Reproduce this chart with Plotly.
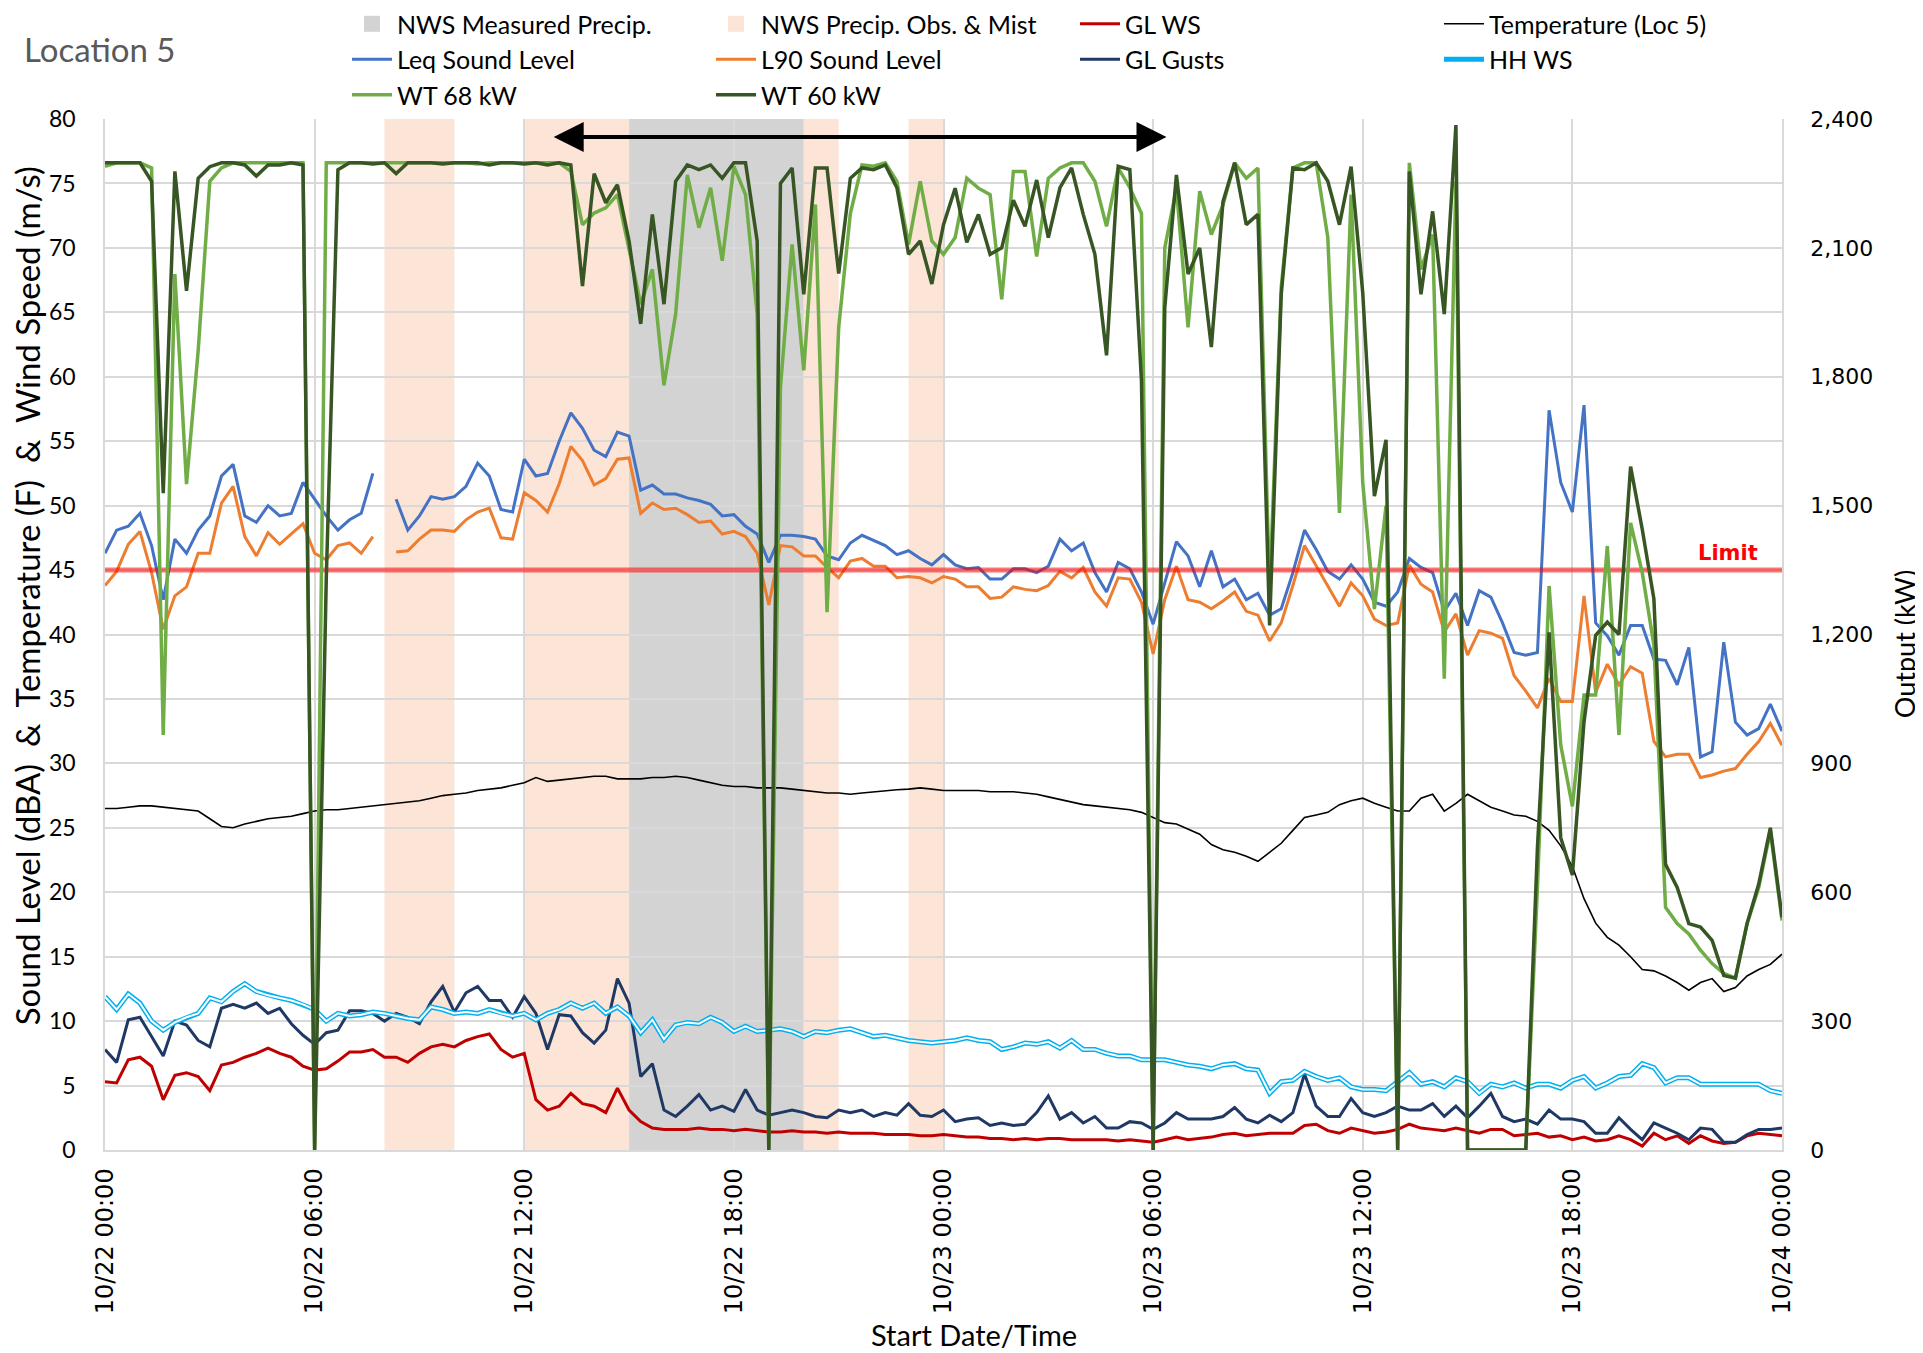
import plotly.graph_objects as go
import pandas as pd

# ---------------- DATA ----------------
START = "2023-10-22 00:00"
N_POINTS = 145          # 20-minute readings, 10/22 00:00 .. 10/24 00:00
STEP = "20min"

leq = [46.3, 48.1, 48.4, 49.4, 46.9, 42.7, 47.4, 46.3, 48.1, 49.2, 52.3, 53.2, 49.2, 48.7, 50.0, 49.2, 49.4, 51.8, 50.5, 49.2, 48.1, 48.9, 49.4, 52.5, None,
       50.5, 48.1, 49.2, 50.7, 50.5, 50.7, 51.5, 53.3, 52.3, 49.7, 49.5, 53.6, 52.3, 52.5, 55.0, 57.2, 56.0, 54.3, 53.8, 55.7, 55.4, 51.2, 51.6, 50.9,
       50.9, 50.6, 50.4, 50.1, 49.2, 49.3, 48.4, 47.8, 45.6, 47.7, 47.7, 47.6, 47.4, 46.1, 45.8, 47.1, 47.7, 47.3, 46.9, 46.2, 46.5, 45.9, 45.4, 46.2,
       45.4, 45.1, 45.2, 44.3, 44.3, 45.1, 45.1, 44.8, 45.3, 47.4, 46.5, 47.1, 44.8, 43.3, 45.6, 45.1, 43.3, 40.8, 44.0, 47.2, 46.1, 43.7, 46.5, 43.7,
       44.3, 42.7, 43.2, 41.5, 42.0, 44.8, 48.1, 46.6, 44.9, 44.3, 45.4, 44.3, 42.5, 42.2, 43.3, 45.9, 45.2, 44.8, 41.8, 43.2, 40.7, 43.4, 42.9, 40.9,
       38.6, 38.4, 38.6, 57.4, 51.8, 49.5, 57.8, 40.9, 39.9, 38.4, 40.7, 40.7, 38.1, 38.0, 36.1, 39.0, 30.5, 30.9, 39.4, 33.2, 32.2, 32.7, 34.6, 32.5]

l90 = [43.8, 44.9, 47.0, 48.0, 44.8, 40.4, 43.0, 43.7, 46.3, 46.3, 50.2, 51.5, 47.6, 46.1, 47.9, 47.0, 47.8, 48.6, 46.3, 45.8, 46.9, 47.1, 46.3, 47.6, None,
       46.4, 46.5, 47.4, 48.1, 48.1, 48.0, 48.9, 49.5, 49.8, 47.5, 47.4, 51.0, 50.4, 49.5, 51.7, 54.6, 53.5, 51.6, 52.1, 53.6, 53.7, 49.4, 50.2, 49.7,
       49.8, 49.3, 48.7, 48.8, 47.8, 48.0, 47.6, 46.3, 42.3, 46.9, 46.8, 46.1, 46.1, 45.2, 44.4, 45.7, 45.9, 45.3, 45.3, 44.4, 44.5, 44.4, 44.0, 44.5,
       44.3, 43.7, 43.7, 42.8, 42.9, 43.7, 43.5, 43.4, 43.8, 44.9, 44.4, 45.2, 43.3, 42.2, 44.4, 44.3, 42.5, 38.5, 42.7, 45.3, 42.7, 42.5, 42.0, 42.6,
       43.3, 41.8, 41.5, 39.5, 40.9, 43.8, 46.9, 45.3, 43.8, 42.2, 44.0, 43.0, 41.2, 40.7, 40.9, 45.4, 43.9, 43.3, 40.2, 41.6, 38.4, 40.3, 40.1, 39.7,
       36.8, 35.6, 34.3, 36.6, 34.8, 34.8, 43.0, 35.5, 37.7, 36.1, 37.5, 37.0, 31.7, 30.5, 30.7, 30.7, 28.9, 29.1, 29.4, 29.6, 30.7, 31.7, 33.1, 31.4]

gl_ws = [5.3, 5.2, 7.0, 7.2, 6.5, 3.9, 5.8, 6.0, 5.7, 4.6, 6.6, 6.8, 7.2, 7.5, 7.9, 7.5, 7.2, 6.5, 6.2, 6.3, 6.9, 7.6, 7.6, 7.8, 7.2,
         7.2, 6.8, 7.5, 8.0, 8.2, 8.0, 8.5, 8.8, 9.0, 7.8, 7.2, 7.5, 3.9, 3.1, 3.4, 4.4, 3.6, 3.4, 2.9, 4.8, 3.1, 2.2, 1.7, 1.6,
         1.6, 1.6, 1.7, 1.6, 1.6, 1.5, 1.6, 1.5, 1.4, 1.4, 1.5, 1.4, 1.4, 1.3, 1.4, 1.3, 1.3, 1.3, 1.2, 1.2, 1.2, 1.1, 1.1, 1.2,
         1.1, 1.0, 1.0, 0.9, 0.9, 0.8, 0.9, 0.8, 0.9, 0.9, 0.8, 0.8, 0.8, 0.8, 0.7, 0.8, 0.7, 0.6, 0.8, 1.0, 0.8, 0.9, 1.0, 1.2,
         1.3, 1.1, 1.2, 1.3, 1.3, 1.3, 1.9, 2.0, 1.5, 1.3, 1.7, 1.5, 1.3, 1.4, 1.6, 2.0, 1.7, 1.6, 1.5, 1.7, 1.5, 1.3, 1.6, 1.6,
         1.1, 1.2, 1.3, 1.0, 1.1, 0.8, 1.0, 0.7, 0.8, 1.1, 0.8, 0.3, 1.3, 0.8, 1.1, 0.5, 1.1, 0.7, 0.5, 0.6, 1.1, 1.3, 1.2, 1.1]

gl_gusts = [7.8, 6.8, 10.1, 10.3, 8.8, 7.3, 10.0, 9.7, 8.5, 8.0, 11.0, 11.3, 11.0, 11.4, 10.6, 11.0, 9.8, 8.9, 8.2, 9.1, 9.3, 10.8, 10.8, 10.6, 10.0,
            10.6, 10.3, 9.8, 11.5, 12.7, 10.7, 12.2, 12.7, 11.6, 11.6, 10.3, 11.9, 10.6, 7.8, 10.5, 10.4, 9.1, 8.3, 9.3, 13.3, 11.4, 5.7, 6.7, 3.1,
            2.6, 3.4, 4.3, 3.1, 3.4, 3.0, 4.7, 3.1, 2.7, 2.9, 3.1, 2.9, 2.6, 2.5, 3.1, 2.9, 3.1, 2.6, 2.9, 2.7, 3.6, 2.7, 2.6, 3.1,
            2.2, 2.4, 2.5, 1.9, 2.1, 1.9, 2.0, 2.9, 4.2, 2.4, 2.9, 2.1, 2.6, 1.7, 1.7, 2.2, 2.1, 1.6, 2.1, 2.9, 2.4, 2.4, 2.4, 2.6,
            3.3, 2.4, 2.1, 2.7, 2.2, 2.9, 5.9, 3.4, 2.6, 2.6, 4.0, 2.9, 2.6, 2.9, 3.4, 3.1, 3.1, 3.6, 2.6, 3.4, 2.5, 3.4, 4.4, 2.6,
            2.2, 2.4, 2.0, 3.1, 2.4, 2.4, 2.2, 1.3, 1.3, 2.5, 1.6, 0.8, 2.1, 1.7, 1.3, 0.8, 1.7, 1.6, 0.6, 0.6, 1.2, 1.6, 1.6, 1.7]

hh_ws = [11.9, 10.9, 12.1, 11.4, 10.0, 9.3, 9.9, 10.3, 10.6, 11.8, 11.5, 12.3, 12.9, 12.3, 12.0, 11.8, 11.6, 11.3, 10.9, 10.0, 10.6, 10.4, 10.5, 10.7, 10.6,
         10.4, 10.2, 10.1, 11.1, 10.9, 10.6, 10.7, 10.6, 10.9, 10.6, 10.4, 10.6, 10.1, 10.6, 10.9, 11.4, 11.0, 11.4, 10.6, 11.1, 10.4, 9.1, 10.1, 8.6,
         9.7, 9.9, 9.8, 10.3, 9.9, 9.2, 9.6, 9.2, 9.3, 9.4, 9.2, 8.8, 9.2, 9.1, 9.3, 9.4, 9.1, 8.8, 8.9, 8.7, 8.5, 8.4, 8.3, 8.4,
         8.5, 8.7, 8.5, 8.4, 7.8, 8.0, 8.3, 8.2, 8.4, 7.9, 8.5, 7.8, 7.8, 7.5, 7.3, 7.3, 7.0, 7.0, 7.0, 6.8, 6.6, 6.5, 6.3, 6.6,
         6.7, 6.3, 6.2, 4.4, 5.3, 5.4, 6.1, 5.7, 5.4, 5.6, 4.9, 4.7, 4.7, 4.6, 5.3, 6.0, 5.1, 5.3, 4.9, 5.6, 5.3, 4.4, 5.1, 4.9,
         5.2, 4.8, 5.1, 5.1, 4.8, 5.4, 5.7, 4.8, 5.2, 5.7, 5.8, 6.7, 6.4, 5.2, 5.6, 5.6, 5.1, 5.1, 5.1, 5.1, 5.1, 5.1, 4.6, 4.4]

temperature = [26.5, 26.5, 26.6, 26.7, 26.7, 26.6, 26.5, 26.4, 26.3, 25.7, 25.1, 25.0, 25.3, 25.5, 25.7, 25.8, 25.9, 26.1, 26.3, 26.4, 26.4, 26.5, 26.6, 26.7, 26.8,
               26.9, 27.0, 27.1, 27.3, 27.5, 27.6, 27.7, 27.9, 28.0, 28.1, 28.3, 28.5, 28.9, 28.6, 28.7, 28.8, 28.9, 29.0, 29.0, 28.8, 28.8, 28.8, 28.9, 28.9,
               29.0, 28.9, 28.7, 28.5, 28.3, 28.2, 28.2, 28.1, 28.1, 28.1, 28.0, 27.9, 27.8, 27.7, 27.7, 27.6, 27.7, 27.8, 27.9, 27.95, 28.0, 28.1, 28.0, 27.9,
               27.9, 27.9, 27.9, 27.8, 27.8, 27.8, 27.7, 27.6, 27.4, 27.2, 27.0, 26.8, 26.7, 26.6, 26.5, 26.4, 26.2, 25.8, 25.4, 25.3, 24.9, 24.5, 23.7, 23.3,
               23.1, 22.8, 22.4, 23.1, 23.8, 24.8, 25.8, 26.0, 26.2, 26.8, 27.1, 27.3, 26.9, 26.6, 26.3, 26.3, 27.3, 27.6, 26.3, 26.9, 27.6, 27.1, 26.6, 26.3,
               26.0, 25.9, 25.5, 24.8, 23.6, 22.0, 19.5, 17.6, 16.5, 15.9, 15.0, 14.0, 13.9, 13.5, 13.0, 12.4, 13.0, 13.3, 12.3, 12.6, 13.5, 14.0, 14.4, 15.2]

wt68_kw = [2290, 2298, 2298, 2298, 2286, 966, 2039, 1550, 1861, 2255, 2286, 2298, 2298, 2298, 2298, 2298, 2298, 2298, 0, 2298, 2298, 2298, 2298, 2298, 2298,
           2298, 2298, 2298, 2298, 2298, 2298, 2298, 2295, 2298, 2298, 2298, 2298, 2298, 2298, 2298, 2278, 2154, 2181, 2193, 2224, 2100, 1969, 2050, 1780,
           1946, 2270, 2147, 2240, 2070, 2290, 2224, 1946, 0, 1776, 2108, 1815, 2201, 1252, 1915, 2180, 2293, 2290, 2298, 2255, 2108, 2255, 2116, 2085,
           2124, 2262, 2239, 2224, 1980, 2278, 2278, 2080, 2262, 2286, 2298, 2298, 2255, 2150, 2286, 2240, 2180, 0, 2100, 2239, 1915, 2232, 2131, 2200,
           2298, 2262, 2286, 1298, 2008, 2286, 2298, 2298, 2124, 1483, 2224, 1553, 1259, 1500, 0, 2298, 2050, 2131, 1097, 2255, 0, 0, 0, 0,
           0, 0, 611, 1313, 943, 800, 1059, 1059, 1406, 966, 1460, 1344, 1175, 565, 527, 503, 465, 434, 411, 400, 527, 611, 742, 534]

wt60_kw = [2298, 2298, 2298, 2298, 2255, 1529, 2278, 2000, 2262, 2289, 2298, 2298, 2293, 2267, 2293, 2293, 2298, 2293, 0, 1330, 2282, 2298, 2298, 2295, 2298,
           2273, 2298, 2298, 2298, 2295, 2298, 2298, 2298, 2293, 2298, 2298, 2295, 2298, 2293, 2298, 2293, 2011, 2273, 2205, 2247, 2116, 1923, 2178, 1969,
           2255, 2293, 2282, 2293, 2262, 2298, 2298, 2116, 0, 2250, 2286, 1992, 2286, 2286, 2040, 2262, 2286, 2282, 2293, 2240, 2085, 2116, 2016, 2154,
           2239, 2113, 2178, 2085, 2100, 2211, 2150, 2258, 2124, 2240, 2286, 2178, 2085, 1850, 2290, 2282, 1790, 0, 1961, 2270, 2039, 2100, 1869, 2208,
           2298, 2154, 2178, 1221, 1992, 2286, 2282, 2298, 2255, 2154, 2289, 1995, 1522, 1653, 0, 2278, 1992, 2185, 1946, 2386, 0, 0, 0, 0,
           0, 0, 704, 1205, 727, 640, 997, 1198, 1229, 1200, 1591, 1445, 1283, 665, 611, 527, 519, 488, 406, 400, 527, 619, 750, 542]

LIMIT = 45

measured_precip = [("2023-10-22 15:00", "2023-10-22 20:00")]
precip_obs_mist = [("2023-10-22 08:00", "2023-10-22 10:00"),
                   ("2023-10-22 12:00", "2023-10-22 15:00"),
                   ("2023-10-22 20:00", "2023-10-22 21:00"),
                   ("2023-10-22 23:00", "2023-10-23 00:00")]

arrow_span = ("2023-10-22 12:48", "2023-10-23 06:23")
arrow_level = 78.6
limit_label_time = "2023-10-23 22:27"

for name, arr in [("leq", leq), ("l90", l90), ("gl_ws", gl_ws), ("gl_gusts", gl_gusts), ("hh_ws", hh_ws),
                  ("temperature", temperature), ("wt68", wt68_kw), ("wt60", wt60_kw)]:
    assert len(arr) == N_POINTS, (name, len(arr))

times = pd.date_range(START, periods=N_POINTS, freq=STEP)

# ---------------- FIGURE ----------------
CAL = "Lato"
GEO = "DejaVu Sans"

fig = go.Figure()

# legend-only entries for the shaded periods
fig.add_trace(go.Scatter(x=[None], y=[None], mode="markers", name="NWS Measured Precip.",
                         marker=dict(symbol="square", size=22, color="#D3D3D3"), legendrank=1))
fig.add_trace(go.Scatter(x=[None], y=[None], mode="markers", name="NWS Precip. Obs. & Mist",
                         marker=dict(symbol="square", size=22, color="#FCE4D6"), legendrank=2))

fig.add_trace(go.Scatter(x=times, y=leq, mode="lines", name="Leq Sound Level",
                         line=dict(color="#4472C4", width=3), legendrank=5))
fig.add_trace(go.Scatter(x=times, y=l90, mode="lines", name="L90 Sound Level",
                         line=dict(color="#ED7D31", width=3), legendrank=6))
fig.add_trace(go.Scatter(x=times, y=gl_ws, mode="lines", name="GL WS",
                         line=dict(color="#C00000", width=3), legendrank=3))
fig.add_trace(go.Scatter(x=times, y=gl_gusts, mode="lines", name="GL Gusts",
                         line=dict(color="#1F3864", width=3), legendrank=7))
fig.add_trace(go.Scatter(x=times, y=hh_ws, mode="lines", name="HH WS",
                         line=dict(color="#00B0F0", width=5), legendrank=8))
fig.add_trace(go.Scatter(x=times, y=hh_ws, mode="lines", showlegend=False, hoverinfo="skip",
                         line=dict(color="white", width=2)))
fig.add_trace(go.Scatter(x=times, y=temperature, mode="lines", name="Temperature (Loc 5)",
                         line=dict(color="black", width=1.6), legendrank=4))
fig.add_trace(go.Scatter(x=[times[0], times[-1]], y=[LIMIT, LIMIT], mode="lines", showlegend=False,
                         hoverinfo="skip", line=dict(color="rgba(255,0,0,0.55)", width=5)))
fig.add_trace(go.Scatter(x=times, y=wt68_kw, mode="lines", name="WT 68 kW", yaxis="y2",
                         line=dict(color="#70AD47", width=3.5), legendrank=9))
fig.add_trace(go.Scatter(x=times, y=wt60_kw, mode="lines", name="WT 60 kW", yaxis="y2",
                         line=dict(color="#375623", width=3.5), legendrank=10))

shapes = []
for a, b in measured_precip:
    shapes.append(dict(type="rect", xref="x", yref="paper", x0=a, x1=b, y0=0, y1=1,
                       fillcolor="#D3D3D3", line=dict(width=0), layer="below"))
for a, b in precip_obs_mist:
    shapes.append(dict(type="rect", xref="x", yref="paper", x0=a, x1=b, y0=0, y1=1,
                       fillcolor="#FCE4D6", line=dict(width=0), layer="below"))

annotations = [
    dict(text="Location 5", xref="paper", yref="paper", x=-0.0495, y=1.068, xanchor="left",
         yanchor="middle", showarrow=False, font=dict(family=CAL, size=33, color="#595959")),
    dict(text="<b>Limit</b>", xref="x", yref="y", x=limit_label_time, y=LIMIT + 1.3,
         showarrow=False, font=dict(family=GEO, size=21, color="#FF0000")),
    dict(text="", xref="x", yref="y", x=arrow_span[1], y=arrow_level, axref="x", ayref="y",
         ax=arrow_span[0], ay=arrow_level, showarrow=True, arrowhead=2, arrowside="end+start",
         arrowsize=1.5, arrowwidth=4, arrowcolor="black"),
    # axis titles
    dict(text="Sound Level (dBA)  &  Temperature (F)  &  Wind Speed (m/s)", xref="paper", yref="paper",
         x=-0.0465, y=0.537, textangle=-90, xanchor="center", yanchor="middle", showarrow=False,
         font=dict(family=CAL, size=33, color="#000000")),
    dict(text="Start Date/Time", xref="paper", yref="paper", x=0.518, y=-0.1785,
         xanchor="center", yanchor="middle", showarrow=False,
         font=dict(family=CAL, size=29, color="#000000")),
    dict(text="Output (kW)", xref="paper", yref="paper", x=1.073, y=0.491, textangle=-90,
         xanchor="center", yanchor="middle", showarrow=False,
         font=dict(family=CAL, size=27, color="#000000")),
]

# the page body adds an 8px offset, so the figure is drawn 8px smaller with shifted margins
fig.update_layout(
    width=1915, height=1345,
    margin=dict(l=97, r=141, t=111, b=203, autoexpand=False),
    paper_bgcolor="white", plot_bgcolor="rgba(0,0,0,0)",
    shapes=shapes, annotations=annotations,
    font=dict(family=CAL, color="#000000"),
    legend=dict(orientation="h", x=0.1443, xanchor="left", y=1.1144, yanchor="top",
                entrywidth=309, entrywidthmode="pixels", traceorder="normal",
                font=dict(family=CAL, size=25, color="#000000"), bgcolor="rgba(0,0,0,0)",
                itemwidth=40),
    xaxis=dict(type="date", range=[times[0], times[-1]], dtick=6 * 3600 * 1000, tick0=START,
               tickformat="%m/%d %H:%M", tickangle=-90, showgrid=True, gridcolor="#D9D9D9",
               gridwidth=1.5, showline=True, linecolor="#D9D9D9", linewidth=1.5, ticks="",
               ticklabelstandoff=7, automargin=False,
               tickfont=dict(family=GEO, size=24, color="#000000")),
    yaxis=dict(range=[0, 80], dtick=5, showgrid=True, gridcolor="#D9D9D9", gridwidth=1.5,
               zeroline=False, showline=True, linecolor="#D9D9D9", linewidth=1.5, ticks="",
               ticklabelstandoff=23, automargin=False,
               tickfont=dict(family=CAL, size=23, color="#000000")),
    yaxis2=dict(range=[0, 2400], dtick=300, overlaying="y", side="right", showgrid=False,
                zeroline=False, showline=True, linecolor="#D9D9D9", linewidth=1.5, ticks="",
                ticklabelstandoff=22, automargin=False,
                tickformat=",d", tickfont=dict(family=GEO, size=22, color="#000000")),
)

fig.write_html("out.html")
